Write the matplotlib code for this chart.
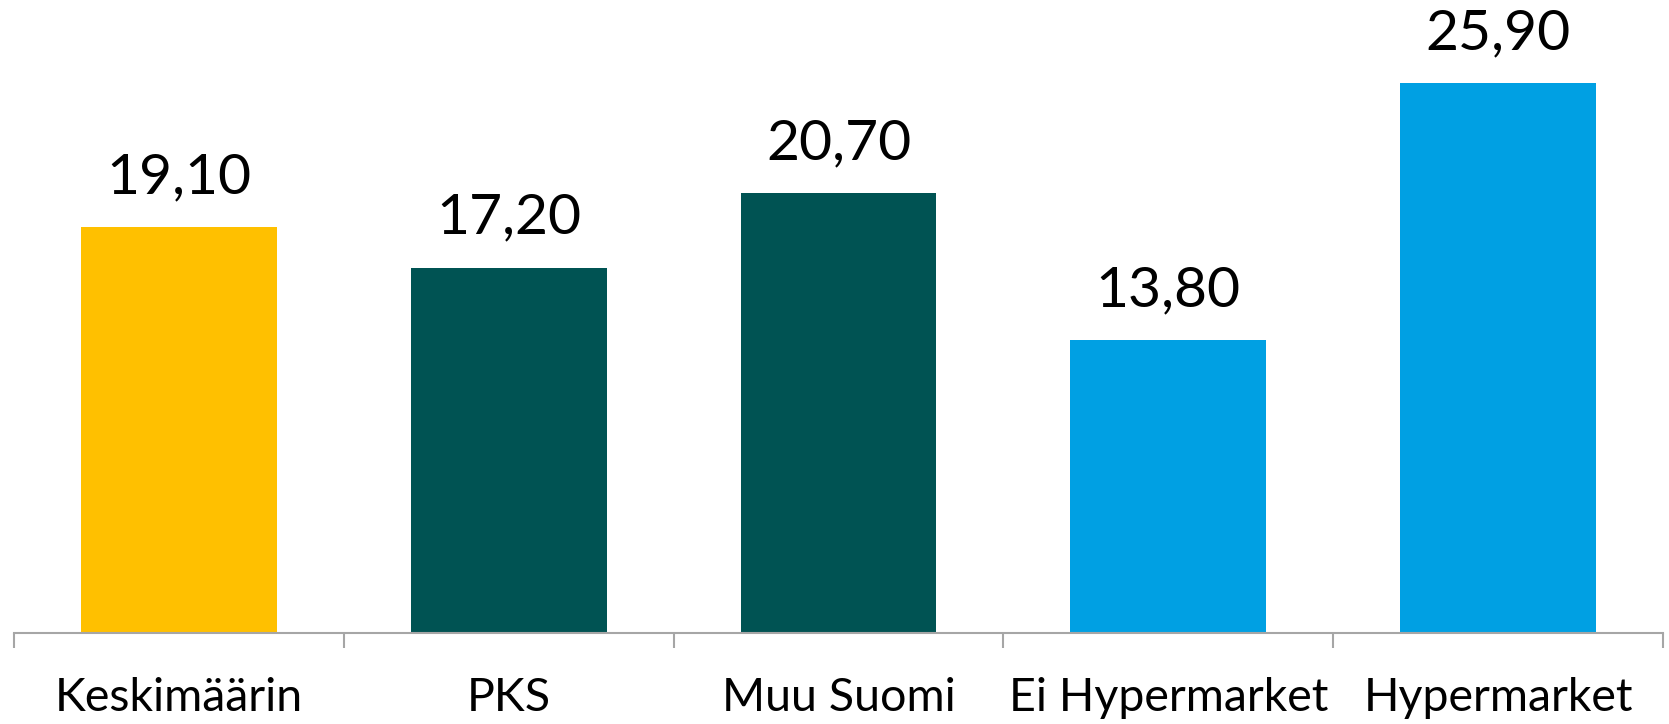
import matplotlib
matplotlib.use("Agg")
import matplotlib.pyplot as plt

categories = ["Keskimäärin", "PKS", "Muu Suomi", "Ei Hypermarket", "Hypermarket"]
values = [19.10, 17.20, 20.70, 13.80, 25.90]
colors = ["#FFC000", "#005353", "#005353", "#00A0E3", "#00A0E3"]

plt.rcParams['font.family'] = ['Lato', 'DejaVu Sans']

fig = plt.figure(figsize=(16.69, 7.24), dpi=100)
x0 = 14 / 1669
x1 = 1663 / 1669
yb = (724 - 633) / 724
ax = fig.add_axes([x0, yb, x1 - x0, 1 - yb])

pos = list(range(len(categories)))
bars = ax.bar(pos, values, width=0.594, color=colors)
ax.set_xlim(-0.5, len(categories) - 0.5)
ax.set_ylim(0, 633 / 21.24)

for b, v in zip(bars, values):
    ax.annotate(f"{v:.2f}".replace(".", ","), (b.get_x() + b.get_width() / 2, v),
                xytext=(0, 24), textcoords="offset pixels", ha="center", va="bottom",
                fontsize=41, color="black")

for s in ["top", "right", "left"]:
    ax.spines[s].set_visible(False)
ax.spines["bottom"].set_color("#A6A6A6")
ax.spines["bottom"].set_linewidth(1.5)
ax.set_yticks([])
ax.set_xticks([p - 0.5 for p in pos] + [len(categories) - 0.5], minor=False)
ax.set_xticklabels([])
ax.tick_params(axis="x", which="major", length=11, width=1.5, color="#A6A6A6")
ax.set_xticks(pos, minor=True)
ax.set_xticklabels(categories, minor=True, fontsize=33.5)
ax.tick_params(axis="x", which="minor", length=0, pad=32)

fig.savefig("out.png", dpi=100)
